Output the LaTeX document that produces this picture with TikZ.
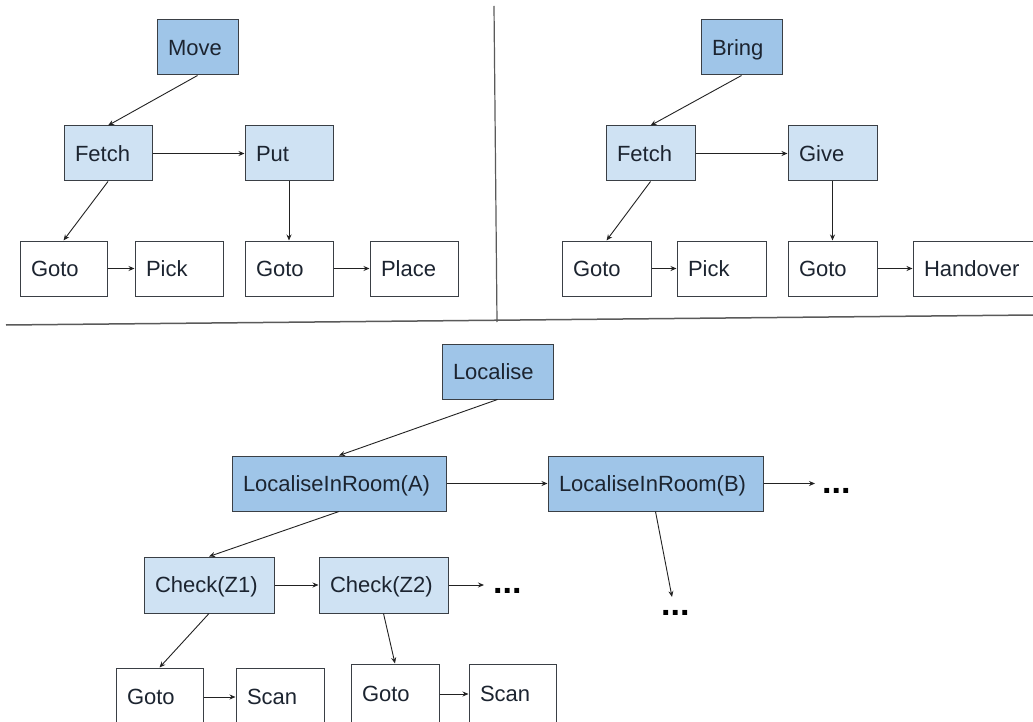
\documentclass[tikz,border=0pt]{standalone}
\usepackage{fontspec}
\setmainfont{Liberation Sans}
\usetikzlibrary{arrows.meta}
\definecolor{darkfill}{HTML}{9FC5E8}
\definecolor{lightfill}{HTML}{CFE2F3}
\definecolor{bordercol}{HTML}{3A3F45}
\definecolor{txtcol}{HTML}{1C2430}
\definecolor{linecol}{HTML}{222222}
\definecolor{sepcol}{HTML}{5A5A5A}
\begin{document}
\begin{tikzpicture}[x=1pt,y=-1pt,
  bx/.style={draw=bordercol, line width=1pt, inner xsep=11pt, inner ysep=0pt,
    minimum height=55pt, align=left, text=txtcol, text height=15.7pt, text depth=0pt,
    font=\fontsize{22}{25}\selectfont},
  darkbox/.style={bx, fill=darkfill},
  lightbox/.style={bx, fill=lightfill},
  plainbox/.style={bx, fill=white},
  arr/.style={draw=linecol, line width=0.9pt, -{Stealth[length=6pt,width=5pt]}},
  sep/.style={draw=sepcol, line width=1.5pt},
  dotsty/.style={inner sep=0pt, anchor=base west, text=black, font=\fontsize{34}{38}\selectfont\bfseries}]
\useasboundingbox (0,0) rectangle (1033,722);
\clip (0,0) rectangle (1033,722);
\fill[white] (0,0) rectangle (1033,722);

% separators
\coordinate (sepL) at (6,325);
\coordinate (sepR) at (1034,315);
\coordinate (vTop) at (494,6);
\coordinate (vBot) at (497,322);
\draw[sep] (sepL) -- (sepR);
\draw[sep, line width=1.2pt] (vTop) -- (vBot);

% ---------- top left: Move ----------
\node[darkbox, text width=59pt] (move) at (197.5,47.5) {Move};
\node[lightbox, text width=66pt] (fetchA) at (108,153.5) {Fetch};
\node[lightbox, text width=66pt] (put) at (289,153.5) {Put};
\node[plainbox, text width=65pt] (gotoA) at (63.5,268.5) {Goto};
\node[plainbox, text width=66pt] (pickA) at (179,268.5) {Pick};
\node[plainbox, text width=66pt] (gotoB) at (289,268.5) {Goto};
\node[plainbox, text width=66pt] (place) at (414,268.5) {Place};

\draw[arr] (move.south) -- (fetchA.north);
\draw[arr] (fetchA.east) -- (put.west);
\draw[arr] (fetchA.south) -- (gotoA.north);
\draw[arr] (put.south) -- (gotoB.north);
\draw[arr] (gotoA.east) -- (pickA.west);
\draw[arr] (gotoB.east) -- (place.west);

% ---------- top right: Bring ----------
\node[darkbox, text width=59pt] (bring) at (741.5,47.5) {Bring};
\node[lightbox, text width=67pt] (fetchB) at (650.5,153.5) {Fetch};
\node[lightbox, text width=67pt] (give) at (832.5,153.5) {Give};
\node[plainbox, text width=67pt] (gotoC) at (606.5,268.5) {Goto};
\node[plainbox, text width=67pt] (pickB) at (721.5,268.5) {Pick};
\node[plainbox, text width=67pt] (gotoD) at (832.5,268.5) {Goto};
\node[plainbox, text width=110pt] (handover) at (979,268.5) {Handover};

\draw[arr] (bring.south) -- (fetchB.north);
\draw[arr] (fetchB.east) -- (give.west);
\draw[arr] (fetchB.south) -- (gotoC.north);
\draw[arr] (give.south) -- (gotoD.north);
\draw[arr] (gotoC.east) -- (pickB.west);
\draw[arr] (gotoD.east) -- (handover.west);

% ---------- bottom: Localise ----------
\node[darkbox, text width=89pt] (localise) at (497.5,371.5) {Localise};
\node[darkbox, text width=192pt] (lirA) at (339,483.5) {LocaliseInRoom(A)};
\node[darkbox, text width=193pt] (lirB) at (655.5,483.5) {LocaliseInRoom(B)};
\node[lightbox, text width=108pt, minimum height=56pt] (chk1) at (209,585) {Check(Z1)};
\node[lightbox, text width=107pt, minimum height=56pt] (chk2) at (383.5,585) {Check(Z2)};
\node[plainbox, text width=65pt, minimum height=58pt] (goto1) at (159.5,697) {Goto};
\node[plainbox, text width=66pt, minimum height=58pt] (scan1) at (280,697) {Scan};
\node[plainbox, text width=66pt, minimum height=60pt] (goto2) at (395,694) {Goto};
\node[plainbox, text width=65pt, minimum height=60pt] (scan2) at (512.5,694) {Scan};

\node[dotsty] (dotsB) at (822,493) {...};
\node[dotsty] (dotsBd) at (661,615) {...};
\node[dotsty] (dotsZ) at (493,593) {...};
\coordinate (endB) at (815,483.5);
\coordinate (endBd) at (672,597);
\coordinate (endZ) at (484,585);

\draw[arr] (localise.south) -- (lirA.north);
\draw[arr] (lirA.east) -- (lirB.west);
\draw[arr] (lirB.east) -- (endB);
\draw[arr] (lirB.south) -- (endBd);
\draw[arr] (lirA.south) -- (chk1.north);
\draw[arr] (chk1.east) -- (chk2.west);
\draw[arr] (chk2.east) -- (endZ);
\draw[arr] (chk1.south) -- (goto1.north);
\draw[arr] (chk2.south) -- (goto2.north);
\draw[arr] (goto1.east) -- (scan1.west);
\draw[arr] (goto2.east) -- (scan2.west);
\end{tikzpicture}
\end{document}
